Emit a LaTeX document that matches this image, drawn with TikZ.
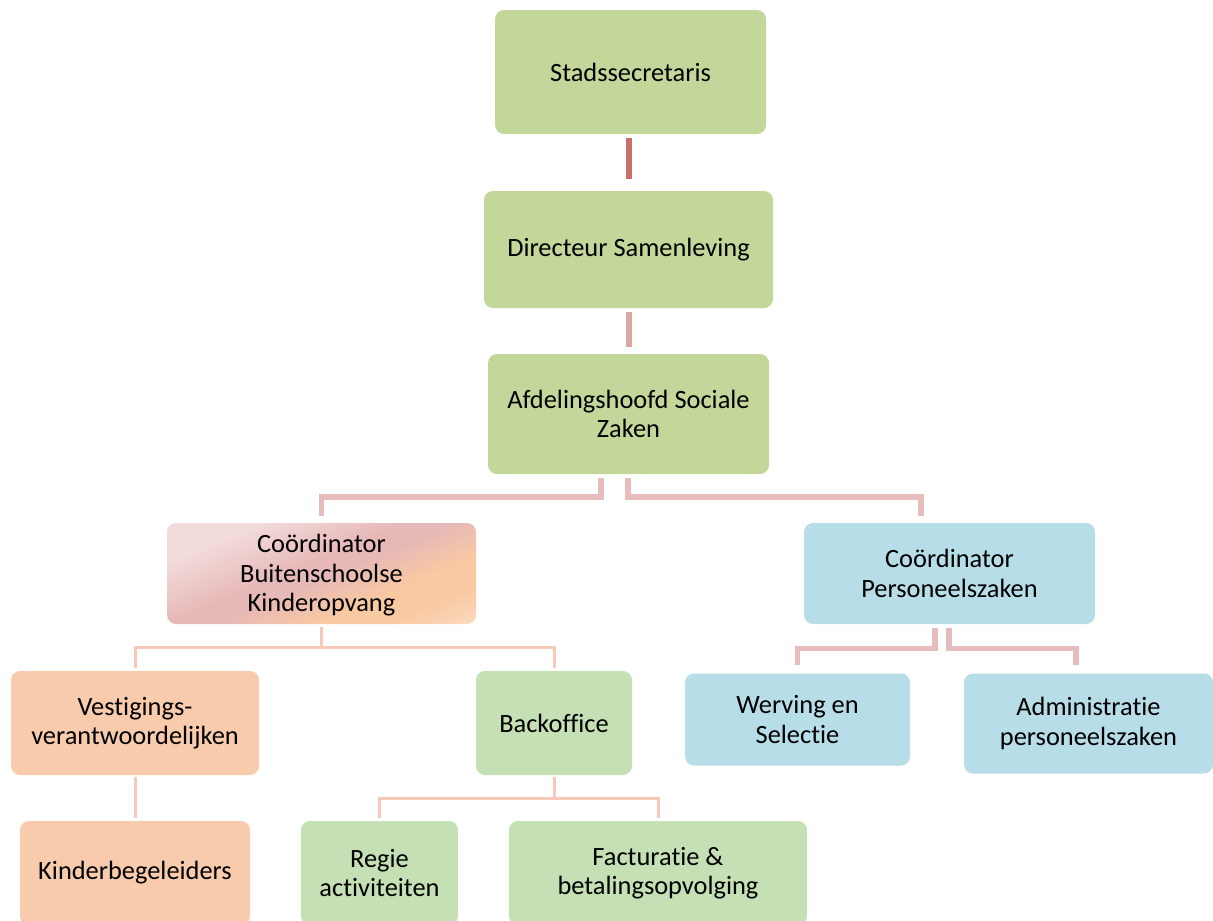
\documentclass[tikz,border=0pt]{standalone}
\usepackage{fontspec}
\setmainfont{Carlito}[Ligatures=NoCommon]
\usetikzlibrary{calc}
\definecolor{cOlive}{HTML}{C4D79B}
\definecolor{cGreen}{HTML}{C5E0B4}
\definecolor{cBlue}{HTML}{B7DDE8}
\definecolor{cPeach}{HTML}{F8CBAD}
\definecolor{bskA}{HTML}{F2DCDB}
\definecolor{bskB}{HTML}{E6B8B7}
\definecolor{bskC}{HTML}{F9C9A2}
\definecolor{bskD}{HTML}{FCDEC6}
\definecolor{cLinkA}{HTML}{CB6E6C}
\definecolor{cLinkB}{HTML}{DEA5A5}
\definecolor{cThick}{HTML}{E6BCBC}
\definecolor{cThin}{HTML}{F6C9B8}
\pgfdeclarehorizontalshading{bskshade}{100bp}{color(0bp)=(bskA); color(28bp)=(bskA); color(46bp)=(bskB); color(51bp)=(bskB); color(64bp)=(bskC); color(72bp)=(bskC); color(86bp)=(bskD); color(100bp)=(bskD)}
\tikzset{
  box/.style={rectangle, rounded corners=9pt, align=center, inner sep=0pt,
    font=\fontsize{26.4}{29.5}\selectfont, text=black},
  sz/.style 2 args={minimum width=#1pt, minimum height=#2pt},
  boxolive/.style={box, fill=cOlive},
  boxgreen/.style={box, fill=cGreen},
  boxblue/.style={box, fill=cBlue},
  boxpeach/.style={box, fill=cPeach},
  boxgrad/.style={box, shading=bskshade, shading angle=-67},
  lnA/.style={draw=cLinkA, line width=5.5pt},
  lnB/.style={draw=cLinkB, line width=5.5pt},
  lnThick/.style={draw=cThick, line width=5.5pt, line join=miter},
  lnThin/.style={draw=cThin, line width=3pt, line join=miter},
}
\begin{document}
\begin{tikzpicture}[x=1pt, y=-1pt]
\useasboundingbox (0,0) rectangle (1213,921);
% nodes
\node[boxolive, sz={271}{124}] (stad) at (630.5,72) {Stadssecretaris};
\node[boxolive, sz={289}{117}] (dir) at (628.5,249.5) {Directeur Samenleving};
\node[boxolive, sz={281}{120}] (afd) at (628.5,414) {Afdelingshoofd Sociale\\Zaken};
\node[boxgrad, sz={309}{101}] (bsk) at (321.5,573.5) {\raisebox{-3pt}[\height][\depth]{\begin{tabular}{@{}c@{}}Coördinator\\Buitenschoolse\\Kinderopvang\end{tabular}}};
\node[boxblue, sz={291}{101}] (pz) at (949.5,573.5) {Coördinator\\Personeelszaken};
\node[boxpeach, sz={248}{104}] (ves) at (135,723) {Vestigings-\\verantwoordelijken};
\node[boxgreen, sz={156}{104}] (back) at (554,723) {Backoffice};
\node[boxblue, sz={225}{92}] (wer) at (797.5,719.5) {Werving en\\Selectie};
\node[boxblue, sz={249}{100}] (adm) at (1088.5,723.5) {Administratie\\personeelszaken};
\node[boxpeach, sz={230}{104}] (kind) at (135,873) {Kinderbegeleiders};
\node[boxgreen, sz={157}{104}] (regie) at (379.5,873) {Regie\\activiteiten};
\node[boxgreen, sz={298}{104}] (fact) at (658,873) {Facturatie \&\\betalingsopvolging};
% connectors
\draw[lnA] ($(stad.south)+(-1.5,4)$) -- ($(dir.north)+(0.5,-12)$);
\draw[lnB] ($(dir.south)+(0.5,4)$) -- ($(afd.north)+(0.5,-7)$);
\draw[lnThick] ($(afd.south)+(-27.5,4)$) |- ($(bsk.north)+(0,-26)$) -- ($(bsk.north)+(0,-7)$);
\draw[lnThick] ($(afd.south)+(-0.5,4)$) |- ($(pz.north)+(-28.5,-26)$) -- ($(pz.north)+(-28.5,-7)$);
\draw[lnThin] ($(bsk.south)+(0,3)$) |- ($(ves.north)+(0,-23)$) -- ($(ves.north)+(0,-3)$);
\draw[lnThin] ($(bsk.south)+(0,3)$) |- ($(back.north)+(0,-23)$) -- ($(back.north)+(0,-3)$);
\draw[lnThick] ($(pz.south)+(-14.5,4)$) |- ($(wer.north)+(0,-25)$) -- ($(wer.north)+(0,-8)$);
\draw[lnThick] ($(pz.south)+(-0.5,4)$) |- ($(adm.north)+(-12.5,-25)$) -- ($(adm.north)+(-12.5,-8)$);
\draw[lnThin] ($(ves.south)+(0,2)$) -- ($(kind.north)+(0,-3)$);
\draw[lnThin] ($(back.south)+(0,2)$) |- ($(regie.north)+(0,-22)$) -- ($(regie.north)+(0,-3)$);
\draw[lnThin] ($(back.south)+(0,2)$) |- ($(fact.north)+(0,-22)$) -- ($(fact.north)+(0,-3)$);
\end{tikzpicture}
\end{document}
